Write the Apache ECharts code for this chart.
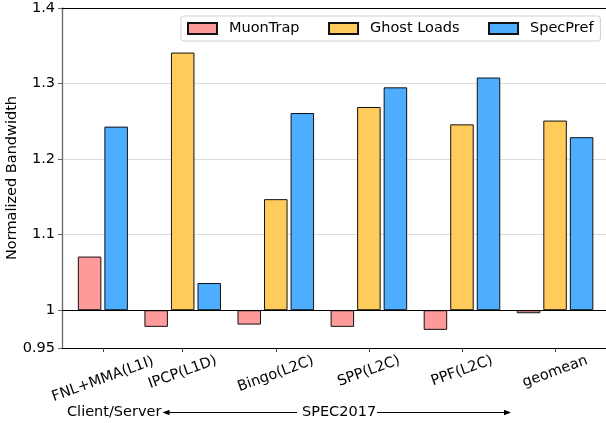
<!DOCTYPE html>
<html><head><meta charset="utf-8">
<script src="https://cdn.jsdelivr.net/npm/echarts@6/dist/echarts.min.js"></script>
<style>html,body{margin:0;padding:0;background:#fff}#c{width:606px;height:423px}</style>
</head><body><div id="c"></div>
<script>
// ---- data ----
const categories = ['FNL+MMA(L1I)', 'IPCP(L1D)', 'Bingo(L2C)', 'SPP(L2C)', 'PPF(L2C)', 'geomean'];
const muonTrap   = [1.071, 0.978, 0.981, 0.978, 0.974, 0.996];
const ghostLoads = [null,  1.341, 1.147, 1.269, 1.246, 1.251];
const specPref   = [1.243, 1.036, 1.261, 1.295, 1.308, 1.229];
const yTickLabels = [0.95, 1, 1.1, 1.2, 1.3, 1.4];
const seriesNames = ['MuonTrap', 'Ghost Loads', 'SpecPref'];
const baseline = 1;

// ---- layout / style ----
const FONT = 'DejaVu Sans';
const FS = 14.5;
const colors = ['#ff9a9a', '#ffcc5c', '#4daeff'];
const pitch = 0.285;          // spacing between bars within a group (x units)
const xMin = -0.2965, xMax = 5.547;
const r3 = v => Math.round(v * 1000) / 1000;

// bar x positions per group (groups without a Ghost Loads value hold two bars)
const muonX = [], ghostX = [], specX = [], tickX = [];
categories.forEach((c, i) => {
  if (ghostLoads[i] == null) {
    muonX.push(i); ghostX.push(null); specX.push(i + pitch); tickX.push(r3(i + pitch / 2));
  } else {
    muonX.push(i - pitch); ghostX.push(i); specX.push(i + pitch); tickX.push(i);
  }
});

// per-label offsets to mimic centred, top-anchored rotated labels
const ctx = document.createElement('canvas').getContext('2d');
ctx.font = FS + 'px "' + FONT + '"';
const widths = categories.map(c => ctx.measureText(c).width);
const minW = Math.min(...widths);
const t20 = Math.tan(20 * Math.PI / 180);
const rich = {};
categories.forEach((c, i) => {
  const p = (widths[i] - minW) * t20;
  rich['l' + i] = { fontSize: FS, fontFamily: FONT, color: '#000', padding: [p, p * t20, 0, 0] };
});

function bars(name, color, xs, vals, axisIdx, extra) {
  const data = [];
  vals.forEach((v, i) => { if (v != null) data.push([xs[i], r3(v - baseline)]); });
  return Object.assign({
    type: 'bar', name, xAxisIndex: axisIdx, yAxisIndex: 0, barWidth: 23.5,
    itemStyle: { color, borderColor: '#111', borderWidth: 1 },
    data, animation: false
  }, extra || {});
}

const hiddenX = (pos) => ({
  type: 'value', min: xMin, max: xMax, position: pos,
  axisLine: { show: false }, axisTick: { show: false }, axisLabel: { show: false }, splitLine: { show: false }
});

const chart = echarts.init(document.getElementById('c'), null, { renderer: 'canvas' });
chart.setOption({
  animation: false,
  grid: { left: 62, right: 0, top: 8, bottom: 75, containLabel: false, outerBoundsMode: 'none' },
  legend: {
    data: seriesNames, left: 181, top: 16, icon: 'rect', itemWidth: 29, itemHeight: 11, itemGap: 28.5,
    padding: [5, 7, 5, 6], borderColor: '#d0d0d0', borderWidth: 1, borderRadius: 3, backgroundColor: '#fff',
    textStyle: { fontSize: FS, fontFamily: FONT, color: '#000', padding: [0, 0, 0, 7] }
  },
  xAxis: [
    {
      type: 'value', min: xMin, max: xMax, position: 'bottom',
      axisLine: { show: true, onZero: false, lineStyle: { color: '#000', width: 1.2 } },
      axisTick: { show: true, customValues: tickX, length: 4, lineStyle: { color: '#444', width: 1 } },
      axisLabel: {
        show: true, customValues: tickX, rotate: 20, align: 'center', verticalAlign: 'middle', margin: 23,
        fontSize: FS, fontFamily: FONT, color: '#000', rich,
        formatter: v => { const i = tickX.findIndex(t => Math.abs(t - v) < 1e-6); return i < 0 ? '' : '{l' + i + '|' + categories[i] + '}'; }
      },
      splitLine: { show: false }
    },
    {
      type: 'value', min: xMin, max: xMax, position: 'top',
      axisLine: { show: true, onZero: false, lineStyle: { color: '#000', width: 1.2 } },
      axisTick: { show: false }, axisLabel: { show: false }, splitLine: { show: false }
    },
    hiddenX('bottom')
  ],
  yAxis: {
    type: 'value', min: r3(yTickLabels[0] - baseline), max: r3(yTickLabels[yTickLabels.length - 1] - baseline),
    name: 'Normalized Bandwidth', nameLocation: 'middle', nameGap: 42, nameMoveOverlap: false,
    nameTextStyle: { fontSize: FS, fontFamily: FONT, color: '#000' },
    axisLine: { show: true, onZero: false, lineStyle: { color: '#666', width: 1.3 } },
    axisTick: { show: true, length: 4, customValues: yTickLabels.map(v => r3(v - baseline)), lineStyle: { color: '#666' } },
    axisLabel: {
      customValues: yTickLabels.map(v => r3(v - baseline)), margin: 7,
      fontSize: FS, fontFamily: FONT, color: '#000',
      formatter: v => String(Number((v + baseline).toFixed(2)))
    },
    splitLine: { show: true, lineStyle: { color: '#dcdcdc', width: 1.2 } }
  },
  series: [
    bars(seriesNames[0], colors[0], muonX, muonTrap, 0),
    bars(seriesNames[1], colors[1], ghostX, ghostLoads, 1),
    bars(seriesNames[2], colors[2], specX, specPref, 2, {
      markLine: {
        silent: true, symbol: ['none', 'none'], label: { show: false }, animation: false,
        lineStyle: { color: '#000', width: 1.2, type: 'solid' }, data: [{ yAxis: 0 }]
      }
    })
  ],
  graphic: [
    { type: 'text', x: 67, y: 412, style: { text: 'Client/Server', fill: '#000', font: FS + 'px "' + FONT + '"', align: 'left', verticalAlign: 'middle' } },
    { type: 'text', x: 302, y: 412, style: { text: 'SPEC2017', fill: '#000', font: FS + 'px "' + FONT + '"', align: 'left', verticalAlign: 'middle' } },
    { type: 'line', shape: { x1: 297, y1: 412.5, x2: 168, y2: 412.5 }, style: { stroke: '#000', lineWidth: 1.2 } },
    { type: 'polygon', shape: { points: [[162.5, 412.5], [169.5, 409.8], [169.5, 415.2]] }, style: { fill: '#000' } },
    { type: 'line', shape: { x1: 377, y1: 412.5, x2: 505, y2: 412.5 }, style: { stroke: '#000', lineWidth: 1.2 } },
    { type: 'polygon', shape: { points: [[511, 412.5], [504, 409.8], [504, 415.2]] }, style: { fill: '#000' } }
  ]
});
</script>
</body></html>
